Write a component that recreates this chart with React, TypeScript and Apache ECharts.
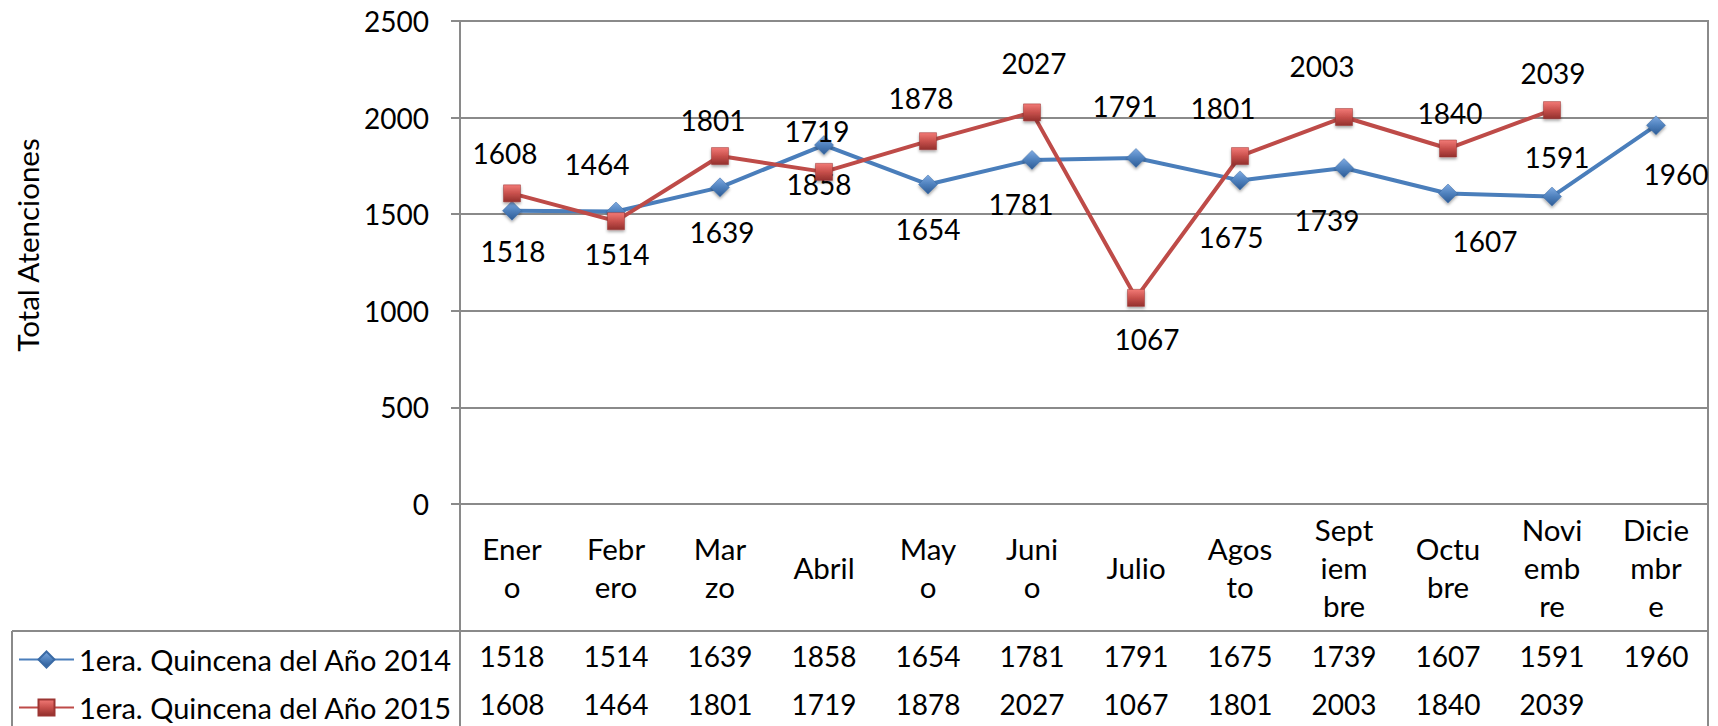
import React, { useEffect, useRef } from "react";
import * as echarts from "echarts";

const categories = ["Enero", "Febrero", "Marzo", "Abril", "Mayo", "Junio", "Julio", "Agosto", "Septiembre", "Octubre", "Noviembre", "Diciembre"];
const categoryLabels = ["Ener\no", "Febr\nero", "Mar\nzo", "Abril", "May\no", "Juni\no", "Julio", "Agos\nto", "Sept\niem\nbre", "Octu\nbre", "Novi\nemb\nre", "Dicie\nmbr\ne"];
const seriesNames = ["1era. Quincena del Año 2014", "1era. Quincena del Año 2015"];
const values2014 = [1518, 1514, 1639, 1858, 1654, 1781, 1791, 1675, 1739, 1607, 1591, 1960];
const values2015 = [1608, 1464, 1801, 1719, 1878, 2027, 1067, 1801, 2003, 1840, 2039];
const yMin = 0;
const yMax = 2500;
const yStep = 500;
const yTitle = "Total Atenciones";

// label placement (styling only)
const labelOffsets2014 = [[1, 40], [1, 43], [2, 45], [-5, 39], [0, 45], [-11, 44], [-11, -52], [-9, 57], [-17, 52], [37, 47], [5, -40], [20, 49]];
const labelOffsets2015 = [[-7, -40], [-19, -57], [-7, -36], [-7, -41], [-7, -43], [2, -49], [11, 41], [-17, -48], [-22, -51], [2, -36], [1, -37]];

const FONT = "Lato";
const FS_NUM = 28;
const FS_TXT = 29.5;
const FS_LEGEND = 29;
const GRID_COLOR = "#8a8a8a";

export default function App() {
  const ref = useRef<HTMLDivElement>(null);
  useEffect(() => {
    const chart = echarts.init(ref.current!, undefined, { renderer: "svg" });
    const blueFill = new echarts.graphic.LinearGradient(0, 0, 0, 1, [
      { offset: 0, color: "#7eaae2" },
      { offset: 0.5, color: "#4f81bd" },
      { offset: 1, color: "#2d5b95" },
    ]);
    const redFill = new echarts.graphic.LinearGradient(0, 0, 0, 1, [
      { offset: 0, color: "#f27a76" },
      { offset: 0.5, color: "#c8504c" },
      { offset: 1, color: "#93302d" },
    ]);
    const numText = { fontFamily: FONT, fontSize: FS_NUM, color: "#000" };
    const wordText = { fontFamily: FONT, fontSize: FS_TXT, color: "#000" };
    const legendText = { fontFamily: FONT, fontSize: FS_LEGEND, color: "#000" };
    const lineSeg = (x1: number, y1: number, x2: number, y2: number) => ({
      type: "line",
      shape: { x1, y1, x2, y2 },
      style: { stroke: GRID_COLOR, lineWidth: 2 },
      silent: true,
    });
    chart.setOption({
      animation: false,
      backgroundColor: "#fff",
      grid: {
        left: 460,
        right: 10,
        top: 21,
        bottom: 222,
        show: true,
        borderColor: GRID_COLOR,
        borderWidth: 2,
        backgroundColor: "transparent",
      },
      legend: [
        {
          data: [seriesNames[0]],
          left: 18,
          top: 645,
          itemWidth: 55,
          itemHeight: 20,
          selectedMode: false,
          padding: 0,
          textStyle: { ...legendText },
        },
        {
          data: [seriesNames[1]],
          left: 18,
          top: 693,
          itemWidth: 55,
          itemHeight: 20,
          selectedMode: false,
          padding: 0,
          textStyle: { ...legendText },
        },
      ],
      xAxis: [
        {
          type: "category",
          data: categories,
          boundaryGap: true,
          axisLine: { show: false },
          axisTick: { show: false },
          splitLine: { show: false },
          axisLabel: {
            interval: 0,
            formatter: (_v: string, i: number) => categoryLabels[i],
            ...wordText,
            lineHeight: 38,
            verticalAlign: "middle",
            margin: 63,
          },
        },
        {
          type: "category",
          data: categories,
          position: "bottom",
          axisLine: { show: false },
          axisTick: { show: false },
          axisLabel: {
            interval: 0,
            formatter: (_v: string, i: number) => (values2014[i] != null ? String(values2014[i]) : ""),
            ...numText,
            verticalAlign: "middle",
            margin: 152,
          },
        },
        {
          type: "category",
          data: categories,
          position: "bottom",
          axisLine: { show: false },
          axisTick: { show: false },
          axisLabel: {
            interval: 0,
            formatter: (_v: string, i: number) => (values2015[i] != null ? String(values2015[i]) : ""),
            ...numText,
            verticalAlign: "middle",
            margin: 200,
          },
        },
      ],
      yAxis: {
        type: "value",
        min: yMin,
        max: yMax,
        interval: yStep,
        axisLine: { show: true, lineStyle: { color: GRID_COLOR, width: 2 } },
        axisTick: { show: true, inside: false, length: 9, lineStyle: { color: GRID_COLOR, width: 2 } },
        splitLine: { show: true, lineStyle: { color: GRID_COLOR, width: 2 } },
        axisLabel: { ...numText, margin: 31, formatter: (v: number) => String(v) },
      },
      graphic: [
        lineSeg(460, 504, 460, 726),
        lineSeg(1708, 504, 1708, 726),
        lineSeg(12, 631, 1708, 631),
        lineSeg(12, 631, 12, 726),
        {
          type: "text",
          x: 27,
          y: 245,
          rotation: Math.PI / 2,
          style: {
            text: yTitle,
            font: `${FS_TXT}px ${FONT}`,
            fill: "#000",
            align: "center",
            verticalAlign: "middle",
          },
        },
      ],
      series: [
        {
          name: seriesNames[0],
          type: "line",
          data: values2014.map((v, i) => ({ value: v, label: { offset: labelOffsets2014[i] } })),
          symbol: "diamond",
          symbolSize: 19,
          lineStyle: { color: "#4a7ebb", width: 4 },
          itemStyle: {
            color: blueFill,
            borderColor: "#3a6aa5",
            borderWidth: 0.5,
            shadowBlur: 3,
            shadowColor: "rgba(0,0,0,0.35)",
            shadowOffsetY: 2,
          },
          label: { show: true, position: "inside", ...numText },
          z: 2,
        },
        {
          name: seriesNames[1],
          type: "line",
          data: values2015.map((v, i) => ({ value: v, label: { offset: labelOffsets2015[i] } })),
          symbol: "rect",
          symbolSize: 17,
          lineStyle: { color: "#be4b48", width: 4 },
          itemStyle: {
            color: redFill,
            borderColor: "#9b3532",
            borderWidth: 0.5,
            shadowBlur: 3,
            shadowColor: "rgba(0,0,0,0.35)",
            shadowOffsetY: 2,
          },
          label: { show: true, position: "inside", ...numText },
          z: 3,
        },
      ],
    });
    return () => chart.dispose();
  }, []);
  return (
    <div
      ref={ref}
      style={{ position: "fixed", left: 0, top: 0, width: 1718, height: 726, background: "#fff" }}
    />
  );
}
